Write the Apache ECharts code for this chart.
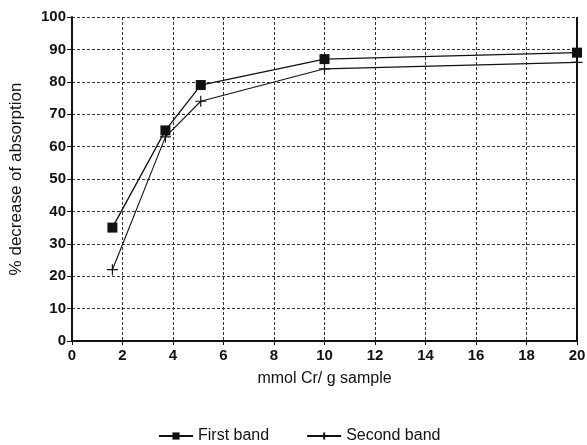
<!DOCTYPE html>
<html><head><meta charset="utf-8">
<script src="https://cdn.jsdelivr.net/npm/echarts@6/dist/echarts.min.js"></script>
<style>html,body{margin:0;padding:0;background:#fff}#c{width:587px;height:445px}</style>
</head><body><div id="c"></div>
<script>
const xFirst = [1.6, 3.7, 5.1, 10, 20];
const yFirst = [35, 65, 79, 87, 89];
const xSecond = [1.6, 3.7, 5.1, 10, 20];
const ySecond = [22, 63, 74, 84, 86];
const seriesNames = ['First band', 'Second band'];
const xAxisTitle = 'mmol Cr/ g sample';
const yAxisTitle = '% decrease of absorption';

const chart = echarts.init(document.getElementById('c'), null, {renderer: 'canvas'});
const font = 'Liberation Sans, Arial, sans-serif';
const crossPath = 'path://M0,0 L0,10 M-5,5 L5,5';
chart.setOption({
  animation: false,
  backgroundColor: '#fff',
  grid: {left: 72, right: 10, top: 17, bottom: 104, containLabel: false, outerBoundsMode: 'none', show: true, borderColor: '#111', borderWidth: 0},
  xAxis: {
    type: 'value', min: 0, max: 20, interval: 2,
    name: xAxisTitle, nameLocation: 'middle', nameGap: 30,
    nameTextStyle: {fontFamily: font, fontSize: 16, color: '#111'},
    axisLine: {show: true, onZero: false, lineStyle: {color: '#111', width: 2}},
    axisTick: {show: true, length: 4, lineStyle: {color: '#111'}},
    axisLabel: {fontFamily: font, fontSize: 15, fontWeight: 'bold', color: '#111', margin: 7},
    splitLine: {show: true, lineStyle: {color: '#333', type: [3, 2], width: 1}}
  },
  yAxis: {
    type: 'value', min: 0, max: 100, interval: 10,
    name: yAxisTitle, nameLocation: 'middle', nameGap: 47, nameRotate: 90,
    nameTextStyle: {fontFamily: font, fontSize: 17, color: '#111'},
    axisLine: {show: true, lineStyle: {color: '#111', width: 2}},
    axisTick: {show: true, length: 5, lineStyle: {color: '#111'}},
    axisLabel: {fontFamily: font, fontSize: 15, fontWeight: 'bold', color: '#111', margin: 6},
    splitLine: {show: true, lineStyle: {color: '#333', type: [3, 2], width: 1}}
  },
  legend: {
    top: 423, left: 153, itemGap: 37, itemWidth: 34, itemHeight: 9,
    textStyle: {fontFamily: font, fontSize: 16, color: '#111'},
    data: seriesNames
  },
  series: [
    {
      name: seriesNames[0], type: 'line',
      data: xFirst.map((x, i) => [x, yFirst[i]]),
      symbol: 'rect', symbolSize: 10,
      lineStyle: {color: '#111', width: 1.3},
      itemStyle: {color: '#111'}
    },
    {
      name: seriesNames[1], type: 'line',
      data: xSecond.map((x, i) => [x, ySecond[i]]),
      symbol: crossPath, symbolSize: 11, symbolKeepAspect: true,
      lineStyle: {color: '#111', width: 1.1},
      itemStyle: {color: 'none', borderColor: '#111', borderWidth: 1.2}
    },
    {
      type: 'line', silent: true, data: [[20, 0], [20, 100]], symbol: 'none',
      lineStyle: {color: '#111', width: 2}, legendHoverLink: false
    }
  ]
});
</script></body></html>
